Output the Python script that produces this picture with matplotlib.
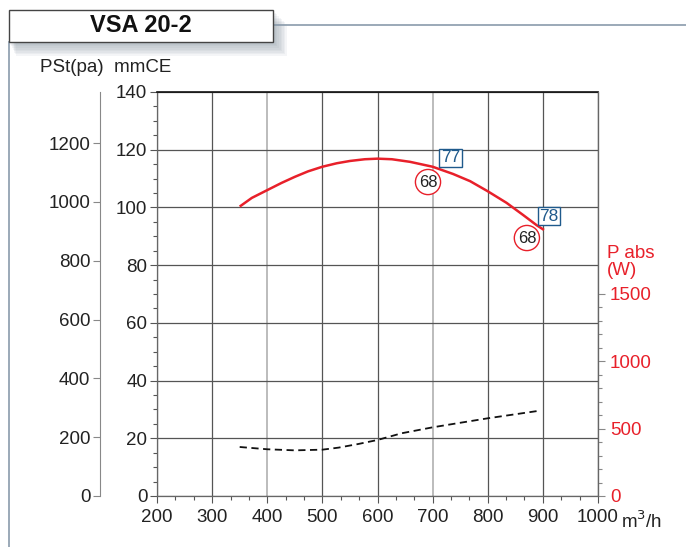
import matplotlib.pyplot as plt
from matplotlib.patches import Rectangle
from matplotlib.lines import Line2D
from matplotlib.ticker import MultipleLocator, FixedLocator

plt.rcParams['font.family'] = ['Liberation Sans', 'DejaVu Sans']

# données
flow_pst = [350, 372, 400, 426, 450, 474, 500, 526, 550, 577, 600, 626,
            659, 700, 737, 768, 800, 834, 864, 889, 902]
pst_mmce = [100.3, 103.3, 106.0, 108.5, 110.6, 112.5, 114.1, 115.3, 116.1, 116.7, 116.9, 116.7,
            115.8, 114.1, 111.6, 109.1, 105.6, 101.6, 97.4, 93.8, 92.2]

flow_pabs = [350, 400, 450, 500, 529, 565, 600, 644, 700, 752, 800, 850, 895]
pabs_w = [364, 347, 339, 344, 359, 386, 416, 466, 510, 545, 577, 607, 634]

# étiquettes : (x, y, texte)
box_labels = [(733, 117.2, "77"), (911, 97.0, "78")]
circle_labels = [(691.6, 108.8, "68"), (871, 89.4, "68")]

x_ticks = [200, 300, 400, 500, 600, 700, 800, 900, 1000]
mmce_ticks = [0, 20, 40, 60, 80, 100, 120, 140]
pa_ticks = [0, 200, 400, 600, 800, 1000, 1200]
w_ticks = [0, 500, 1000, 1500]

W, H = 686, 547
fig = plt.figure(figsize=(W / 100, H / 100), dpi=100)

def fx(px):
    return px / W

def fy(py):
    return 1 - py / H

ax = fig.add_axes([fx(157), fy(496), fx(598) - fx(157), fy(92) - fy(496)])
ax.set_xlim(200, 1000)
ax.set_ylim(0, 140)
ax.set_xticks(x_ticks)
ax.set_yticks(mmce_ticks)
ax.xaxis.set_minor_locator(MultipleLocator(100 / 3))
ax.yaxis.set_minor_locator(MultipleLocator(5))
ax.tick_params(which='both', colors='#555555', labelcolor='#222222', labelsize=13.5, width=0.8)
ax.tick_params(which='major', length=5)
ax.tick_params(which='minor', length=3)
ax.tick_params(axis='x', pad=4)
ax.tick_params(axis='y', pad=2)
for s in ['left', 'bottom', 'right']:
    ax.spines[s].set_color('#666666')
    ax.spines[s].set_linewidth(0.9)
ax.spines['top'].set_color('#111111')
ax.spines['top'].set_linewidth(1.2)

ax.grid(True, color='#555555', linewidth=0.9)
for xv, gl in zip(x_ticks, ax.get_xgridlines()):
    if xv in (400, 700):
        gl.set_color('#b0b0b0')
        gl.set_linewidth(1.2)

ax.plot(flow_pst, pst_mmce, color='#e8202a', linewidth=1.8, zorder=5, solid_capstyle='butt')

for x, y, t in box_labels:
    ax.text(x, y, t, color='#1f5a8c', fontsize=12.5, ha='center', va='center', zorder=6,
            bbox=dict(boxstyle='square,pad=0.1', fc='white', ec='#1f5a8c', lw=1.0))
for x, y, t in circle_labels:
    ax.text(x, y, t, color='#222222', fontsize=12, ha='center', va='center', zorder=6,
            bbox=dict(boxstyle='circle,pad=0.2', fc='white', ec='#e8202a', lw=1.0))

# axe Pa à gauche
ax_pa = ax.twinx()
ax_pa.set_ylim(0, 140 * 9.81)
ax_pa.yaxis.tick_left()
ax_pa.spines['left'].set_position(('outward', 41))
ax_pa.spines['left'].set_color('#888888')
for s in ['right', 'top', 'bottom']:
    ax_pa.spines[s].set_visible(False)
ax_pa.set_yticks(pa_ticks)
ax_pa.tick_params(colors='#888888', labelcolor='#222222', labelsize=13.5, length=5, width=0.8, pad=2)

# axe puissance à droite
ax_w = ax.twinx()
ax_w.set_ylim(0, 3000)
ax_w.set_yticks(w_ticks)
ax_w.yaxis.set_minor_locator(FixedLocator(list(range(100, 1500, 100))))
for s in ['left', 'top', 'bottom']:
    ax_w.spines[s].set_visible(False)
ax_w.spines['right'].set_color('#666666')
ax_w.tick_params(which='both', colors='#888888', labelcolor='#e8202a', labelsize=13.5, width=0.8)
ax_w.tick_params(which='major', length=5)
ax_w.tick_params(which='minor', length=3)
ax_w.plot(flow_pabs, pabs_w, color='#111111', linewidth=1.3, linestyle=(0, (4, 2.5)), zorder=4)

fig.text(fx(607), fy(262), "P abs\n(W)", color='#e8202a', fontsize=13.5, ha='left', va='center',
         linespacing=0.95)
fig.text(fx(40), fy(67), "PSt(pa)  mmCE", color='#222222', fontsize=13.5, ha='left', va='center')
fig.text(fx(621), fy(521), "m$^3$/h", color='#222222', fontsize=13.5, ha='left', va='center')

# cadre du titre avec ombre
for i in range(8):
    d = 14 - 1.6 * i
    fig.add_artist(Rectangle((fx(9 + d * 0.5), fy(42 + d)), fx(264 + d * 0.5), fy(0) - fy(32),
                             facecolor='#7d8c9a', edgecolor='none', alpha=0.08, zorder=0))
fig.add_artist(Line2D([fx(273), fx(686)], [fy(25), fy(25)], color='#8a9bab', linewidth=1.2))
fig.add_artist(Line2D([fx(9), fx(9)], [fy(42), fy(547)], color='#8a9bab', linewidth=1.2))
fig.add_artist(Rectangle((fx(9), fy(42)), fx(264), fy(0) - fy(32),
                         facecolor='white', edgecolor='#444444', linewidth=1.0, zorder=2))
fig.text(fx(141), fy(26), "VSA 20-2", fontsize=17, fontweight='bold', color='#111111',
         ha='center', va='center', family=['Liberation Sans Narrow', 'Liberation Sans'], zorder=3)

fig.savefig("out.png", dpi=100)
